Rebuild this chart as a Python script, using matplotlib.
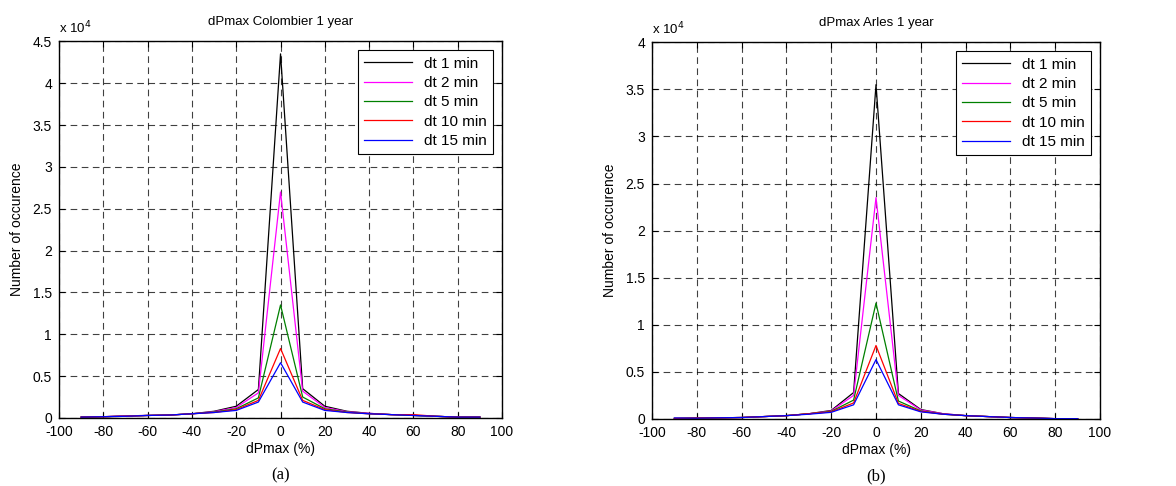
import numpy as np
import matplotlib
matplotlib.use('Agg')
from matplotlib import pyplot as plt
from matplotlib.ticker import FormatStrFormatter, MultipleLocator

plt.rcParams['font.family'] = ['Liberation Sans', 'DejaVu Sans']
plt.rcParams['font.size'] = 10
plt.rcParams['axes.unicode_minus'] = False

# dPmax bins (%)
dp = [-90, -80, -70, -60, -50, -40, -30, -20, -10, 0, 10, 20, 30, 40, 50, 60, 70, 80, 90]

labels = ['dt 1 min', 'dt 2 min', 'dt 5 min', 'dt 10 min', 'dt 15 min']
colors = ['black', 'magenta', '#008000', 'red', 'blue']

# (a) Colombier, number of occurences
col_dt1 = [100, 150, 250, 300, 350, 500, 800, 1400, 3400, 43500, 3500, 1400, 800, 550, 400, 300, 200, 100, 100]
col_dt2 = [100, 150, 250, 300, 350, 500, 750, 1250, 3000, 27000, 3200, 1250, 750, 550, 400, 300, 200, 100, 100]
col_dt5 = [100, 150, 200, 300, 350, 500, 700, 1100, 2400, 13500, 2500, 1100, 700, 500, 400, 300, 200, 100, 100]
col_dt10 = [100, 150, 200, 300, 350, 500, 650, 1000, 2100, 8300, 2100, 1000, 650, 500, 400, 400, 200, 100, 100]
col_dt15 = [100, 150, 200, 300, 350, 500, 650, 900, 1900, 6600, 1900, 900, 650, 500, 400, 300, 200, 100, 100]

# (b) Arles, number of occurences
arl_dt1 = [50, 80, 120, 150, 250, 350, 550, 900, 2800, 35500, 2700, 1000, 550, 350, 250, 150, 100, 30, 30]
arl_dt2 = [50, 80, 120, 150, 250, 350, 550, 850, 2500, 23500, 2500, 950, 550, 350, 250, 150, 100, 30, 30]
arl_dt5 = [50, 80, 120, 150, 250, 350, 550, 800, 2000, 12300, 1900, 850, 500, 350, 250, 150, 100, 30, 30]
arl_dt10 = [50, 100, 120, 150, 250, 350, 550, 750, 1700, 7800, 1650, 800, 500, 350, 250, 150, 100, 30, 30]
arl_dt15 = [100, 80, 120, 150, 250, 350, 500, 700, 1500, 6300, 1500, 750, 500, 350, 250, 150, 100, 30, 30]

panels = [
    ('dPmax Colombier 1 year', [col_dt1, col_dt2, col_dt5, col_dt10, col_dt15], 4.5, '(a)'),
    ('dPmax Arles 1 year', [arl_dt1, arl_dt2, arl_dt5, arl_dt10, arl_dt15], 4.0, '(b)'),
]
axes_pos = [[0.0502, 0.14, 0.3767, 0.775], [0.5544, 0.138, 0.381, 0.775]]

fig = plt.figure(figsize=(11.76, 4.86), dpi=100)

for (title, series, ymax, cap), pos in zip(panels, axes_pos):
    ax = fig.add_axes(pos)
    for s, lab, c in zip(series, labels, colors):
        ax.plot(dp, np.array(s) / 1e4, color=c, lw=0.9, label=lab)
    ax.set_xlim(-100, 100)
    ax.set_ylim(0, ymax)
    ax.xaxis.set_major_locator(MultipleLocator(20))
    ax.yaxis.set_major_locator(MultipleLocator(0.5))
    ax.yaxis.set_major_formatter(FormatStrFormatter('%g'))
    ax.grid(True, color='black', linestyle=(0, (6, 4)), linewidth=0.8, alpha=0.75)
    ax.tick_params(direction='in', top=True, right=True, length=4, width=0.8)
    ax.tick_params(axis='x', pad=5)
    ax.tick_params(axis='y', pad=5)
    for sp in ax.spines.values():
        sp.set_linewidth(1.0)
    ax.set_title(title, fontsize=9.5, pad=12)
    ax.set_xlabel('dPmax (%)', labelpad=2)
    ax.set_ylabel('Number of occurence', labelpad=6)
    ax.text(0.0, 1.012, r'x 10$^{4}$', transform=ax.transAxes, ha='left', va='bottom',
            fontsize=9.5)
    leg = ax.legend(loc='upper right', fancybox=False, framealpha=1, edgecolor='black',
                    handlelength=3.1, borderaxespad=0.6, labelspacing=0.35, fontsize=11)
    leg.get_frame().set_linewidth(0.8)
    ax.text(0.5, -0.13, cap, transform=ax.transAxes, ha='center', va='top',
            family=['Liberation Serif', 'DejaVu Serif'], fontsize=12)

fig.savefig('out.png', dpi=100)
